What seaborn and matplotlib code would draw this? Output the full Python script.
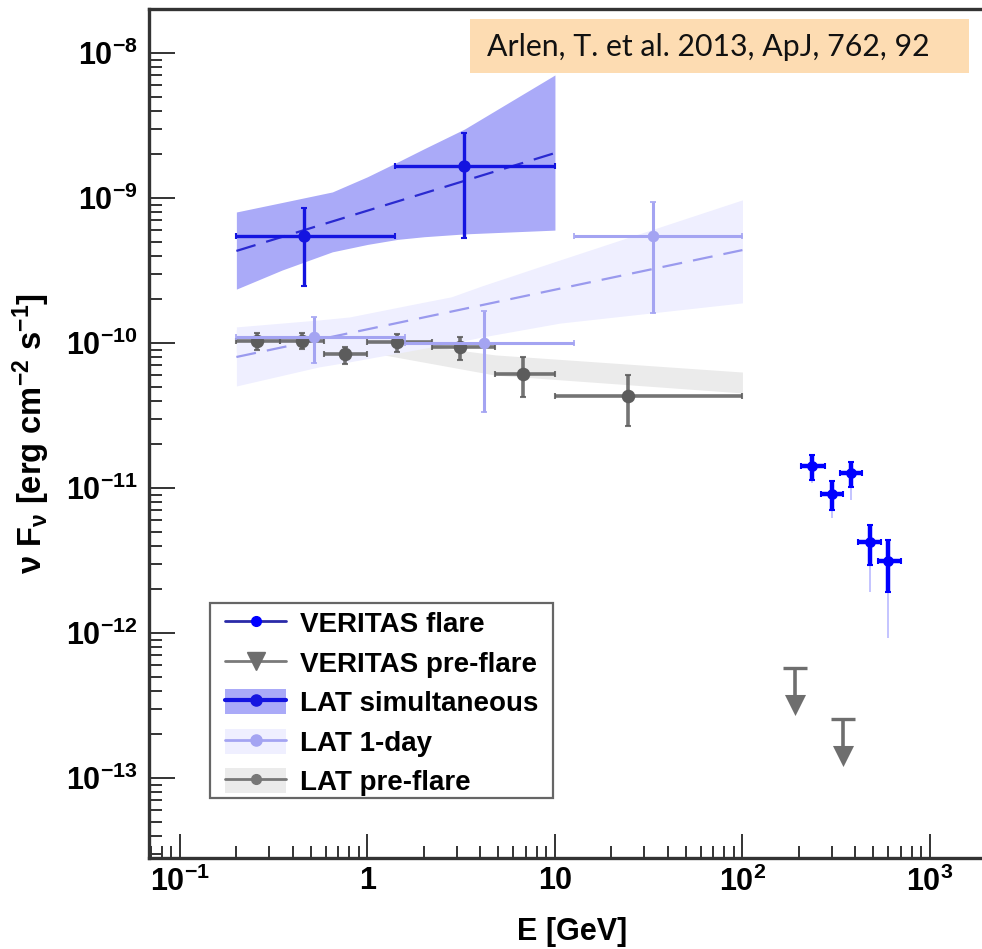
import matplotlib
matplotlib.use("Agg")
import matplotlib.pyplot as plt
import seaborn as sns
import numpy as np
from matplotlib.patches import Rectangle, Patch
from matplotlib.lines import Line2D
from matplotlib.ticker import FixedLocator, FixedFormatter, LogLocator, NullFormatter

# ---------------- data ----------------
# VERITAS flare spectrum (GeV, erg cm^-2 s^-1)
ver_flare_E = [236, 299, 379, 480, 600]
ver_flare_Elo = [206, 261, 330, 413, 530]
ver_flare_Ehi = [274, 343, 434, 550, 697]
ver_flare_F = [1.42e-11, 9.1e-12, 1.27e-11, 4.25e-12, 3.14e-12]
ver_flare_Fhi = [1.69e-11, 1.117e-11, 1.51e-11, 5.56e-12, 4.38e-12]
ver_flare_Flo = [1.135e-11, 7.05e-12, 1.016e-11, 2.94e-12, 1.92e-12]
ver_flare_Fsys = [1.08e-11, 6.2e-12, 8.26e-12, 1.92e-12, 9.25e-13]

# VERITAS pre-flare upper limits
ver_pre_E = [191, 343]
ver_pre_UL = [5.74e-13, 2.55e-13]
ver_pre_arrow = [3.19e-13, 1.42e-13]

# Fermi-LAT, simultaneous with the flare
lat_sim_E = [0.459, 3.27]
lat_sim_edges = [0.2, 1.41, 10.0]
lat_sim_F = [5.47e-10, 1.66e-9]
lat_sim_Fhi = [8.53e-10, 2.81e-9]
lat_sim_Flo = [2.47e-10, 5.3e-10]
lat_sim_band_E = [0.2, 0.35, 0.65, 1.0, 1.45, 2.0, 3.3, 10.0]
lat_sim_band_hi = [8.0e-10, 9.3e-10, 1.10e-9, 1.40e-9, 1.77e-9, 2.18e-9, 2.99e-9, 7.05e-9]
lat_sim_band_lo = [2.35e-10, 3.18e-10, 4.25e-10, 4.78e-10, 5.18e-10, 5.4e-10, 5.65e-10, 6.0e-10]
lat_sim_fit_E = [0.2, 10.0]
lat_sim_fit_F = [4.31e-10, 2.04e-9]

# Fermi-LAT, 1-day
lat_day_E = [0.519, 4.18, 33.3]
lat_day_edges = [0.2, 1.58, 12.6, 100.0]
lat_day_F = [1.10e-10, 1.0e-10, 5.47e-10]
lat_day_Fhi = [1.51e-10, 1.66e-10, 9.37e-10]
lat_day_Flo = [7.28e-11, 3.34e-11, 1.61e-10]
lat_day_band_E = [0.2, 0.55, 0.8, 1.8, 2.8, 4.1, 10.6, 100.0]
lat_day_band_hi = [1.29e-10, 1.44e-10, 1.51e-10, 1.86e-10, 2.08e-10, 2.48e-10, 3.73e-10, 9.7e-10]
lat_day_band_lo = [5.05e-11, 6.83e-11, 7.4e-11, 8.95e-11, 9.93e-11, 1.10e-10, 1.37e-10, 1.89e-10]
lat_day_fit_E = [0.2, 100.0]
lat_day_fit_F = [8.0e-11, 4.37e-10]

# Fermi-LAT, pre-flare
lat_pre_E = [0.258, 0.448, 0.759, 1.44, 3.11, 6.75, 24.5]
lat_pre_edges = [0.2, 0.34, 0.59, 1.0, 2.2, 4.8, 10.0, 100.0]
lat_pre_F = [1.03e-10, 1.03e-10, 8.4e-11, 1.016e-10, 9.4e-11, 6.1e-11, 4.3e-11]
lat_pre_Fhi = [1.17e-10, 1.17e-10, 9.4e-11, 1.154e-10, 1.10e-10, 8.0e-11, 6.0e-11]
lat_pre_Flo = [8.95e-11, 9.1e-11, 7.17e-11, 8.67e-11, 7.63e-11, 4.25e-11, 2.68e-11]
lat_pre_band_E = [0.2, 1.0, 4.8, 100.0]
lat_pre_band_hi = [1.23e-10, 1.08e-10, 8.27e-11, 6.3e-11]
lat_pre_band_lo = [8.67e-11, 8.67e-11, 6.0e-11, 4.52e-11]

legend_labels = ["VERITAS flare", "VERITAS pre-flare", "LAT simultaneous",
                 "LAT 1-day", "LAT pre-flare"]
x_ticks = [0.1, 1, 10, 100, 1000]
x_ticklabels = [r"$10^{-1}$", "1", "10", r"$10^{2}$", r"$10^{3}$"]
y_ticks = [1e-13, 1e-12, 1e-11, 1e-10, 1e-9, 1e-8]
y_ticklabels = [r"$10^{-13}$", r"$10^{-12}$", r"$10^{-11}$",
                r"$10^{-10}$", r"$10^{-9}$", r"$10^{-8}$"]
citation = "Arlen, T. et al. 2013, ApJ, 762, 92"

# ---------------- style ----------------
sns.set_theme(style="white")
plt.rcParams["font.family"] = ["Liberation Sans", "DejaVu Sans"]
plt.rcParams["font.weight"] = "bold"
plt.rcParams["mathtext.default"] = "regular"
plt.rcParams["text.color"] = "black"
plt.rcParams["axes.labelcolor"] = "black"

C_VFLARE = "#0000ff"
C_VFLARE_SYS = "#c4c4ff"
C_VPRE = "#6e6e6e"
C_SIM = "#1414e0"
C_SIM_BAND = "#aaaaf8"
C_DAY = "#a4a4f2"
C_DAY_BAND = "#efefff"
C_PRE = "#5c5c5c"
C_PRE_BAND = "#ebebeb"


def asym(center, lo, hi):
    c = np.asarray(center, float)
    return np.vstack([c - np.asarray(lo, float), np.asarray(hi, float) - c])


fig = plt.figure(figsize=(9.82, 9.49), dpi=100)
ax = fig.add_axes([149 / 982, 91 / 949, 846 / 982, 849 / 949])
ax.set_xscale("log")
ax.set_yscale("log")

# bands
ax.fill_between(lat_pre_band_E, lat_pre_band_lo, lat_pre_band_hi,
                color=C_PRE_BAND, lw=0, zorder=1)
ax.fill_between(lat_day_band_E, lat_day_band_lo, lat_day_band_hi,
                color=C_DAY_BAND, lw=0, zorder=1.2)
ax.fill_between(lat_sim_band_E, lat_sim_band_lo, lat_sim_band_hi,
                color=C_SIM_BAND, lw=0, zorder=1.4)

# power-law fits
sns.lineplot(x=lat_day_fit_E, y=lat_day_fit_F, ax=ax, color="#9a9aee",
             lw=1.6, linestyle=(0, (9, 5)), zorder=2)
sns.lineplot(x=lat_sim_fit_E, y=lat_sim_fit_F, ax=ax, color="#2a2ad0",
             lw=1.6, linestyle=(0, (9, 5)), zorder=2.5)

# LAT pre-flare points
pre_edges = np.array(lat_pre_edges)
ax.errorbar(lat_pre_E, lat_pre_F,
            xerr=asym(lat_pre_E, pre_edges[:-1], pre_edges[1:]),
            yerr=asym(lat_pre_F, lat_pre_Flo, lat_pre_Fhi),
            fmt="none", ecolor=C_PRE, elinewidth=2.6, capsize=2, capthick=1.5,
            alpha=0.85, zorder=3)
sns.scatterplot(x=lat_pre_E, y=lat_pre_F, ax=ax, color=C_PRE, s=95,
                marker="o", linewidth=0, zorder=3.5)

# LAT 1-day points
day_edges = np.array(lat_day_edges)
ax.errorbar(lat_day_E, lat_day_F,
            xerr=asym(lat_day_E, day_edges[:-1], day_edges[1:]),
            yerr=asym(lat_day_F, lat_day_Flo, lat_day_Fhi),
            fmt="none", ecolor=C_DAY, elinewidth=2.2, capsize=2, capthick=1.2,
            zorder=4)
sns.scatterplot(x=lat_day_E, y=lat_day_F, ax=ax, color=C_DAY, s=70,
                linewidth=0, zorder=4.5)

# LAT simultaneous points
sim_edges = np.array(lat_sim_edges)
ax.errorbar(lat_sim_E, lat_sim_F,
            xerr=asym(lat_sim_E, sim_edges[:-1], sim_edges[1:]),
            yerr=asym(lat_sim_F, lat_sim_Flo, lat_sim_Fhi),
            fmt="none", ecolor=C_SIM, elinewidth=2.4, capsize=2, capthick=1.5,
            zorder=5)
sns.scatterplot(x=lat_sim_E, y=lat_sim_F, ax=ax, color=C_SIM, s=80,
                linewidth=0, zorder=5.5)

# VERITAS flare points: systematic extension, then statistical bars
ax.errorbar(ver_flare_E, ver_flare_F,
            yerr=asym(ver_flare_F, ver_flare_Fsys, ver_flare_F),
            fmt="none", ecolor=C_VFLARE_SYS, elinewidth=1.4, zorder=5.8)
ax.errorbar(ver_flare_E, ver_flare_F,
            xerr=asym(ver_flare_E, ver_flare_Elo, ver_flare_Ehi),
            yerr=asym(ver_flare_F, ver_flare_Flo, ver_flare_Fhi),
            fmt="none", ecolor=C_VFLARE, elinewidth=3.2, capsize=2, capthick=1.5,
            zorder=6)
sns.scatterplot(x=ver_flare_E, y=ver_flare_F, ax=ax, color=C_VFLARE, s=60,
                linewidth=0, zorder=6.5)

# VERITAS pre-flare upper limits
ax.vlines(ver_pre_E, ver_pre_arrow, ver_pre_UL, color=C_VPRE, lw=2.6, zorder=6)
ax.plot(ver_pre_E, ver_pre_UL, linestyle="none", marker="_", ms=17,
        mew=2.4, color=C_VPRE, zorder=6)
sns.scatterplot(x=ver_pre_E, y=ver_pre_arrow, ax=ax, color=C_VPRE, s=230,
                marker="v", linewidth=0, zorder=6.5)

# ---------------- axes ----------------
ax.set_xlim(10 ** -1.165, 10 ** 3.347)
ax.set_ylim(10 ** -13.552, 10 ** -7.697)

ax.xaxis.set_major_locator(FixedLocator(x_ticks))
ax.xaxis.set_major_formatter(FixedFormatter(x_ticklabels))
ax.yaxis.set_major_locator(FixedLocator(y_ticks))
ax.yaxis.set_major_formatter(FixedFormatter(y_ticklabels))
for axis in (ax.xaxis, ax.yaxis):
    axis.set_minor_locator(LogLocator(base=10, subs=np.arange(2, 10), numticks=30))
    axis.set_minor_formatter(NullFormatter())

ax.tick_params(which="both", direction="in", colors="#333333",
               labelcolor="black", labelsize=22, width=1.4,
               bottom=True, left=True, top=False, right=False)
ax.tick_params(axis="y", which="major", length=19, pad=8)
ax.tick_params(axis="y", which="minor", length=9)
ax.tick_params(axis="x", which="major", length=17, pad=6)
ax.tick_params(axis="x", which="minor", length=9)

for side in ("left", "bottom", "top", "right"):
    ax.spines[side].set_color("#333333")
    ax.spines[side].set_linewidth(2.4)

ax.set_xlabel("E [GeV]", fontsize=22, fontweight="bold", labelpad=14)
ax.set_ylabel(r"ν F$_{ν}$ [erg cm$^{-2}$ s$^{-1}$]", fontsize=23.5,
              fontweight="bold", labelpad=10)

# ---------------- legend ----------------
# frame drawn separately so the padding around the entries is uneven
ax.add_patch(Rectangle((0.0721, 0.0707), 0.4054, 0.2297, transform=ax.transAxes,
                       fc="white", ec="#666666", lw=1.6, zorder=9))
handles = [
    Line2D([], [], color="#2a2aa8", lw=2, marker="o", ms=7,
           mfc=C_VFLARE, mec=C_VFLARE),
    Line2D([], [], color="#7a7a7a", lw=2, marker="v", ms=13,
           mfc=C_VPRE, mec=C_VPRE),
    (Patch(fc=C_SIM_BAND, ec="none"),
     Line2D([], [], color=C_SIM, lw=3, marker="o", ms=8)),
    (Patch(fc=C_DAY_BAND, ec="none"),
     Line2D([], [], color=C_DAY, lw=2, marker="o", ms=8)),
    (Patch(fc=C_PRE_BAND, ec="none"),
     Line2D([], [], color="#777777", lw=2, marker="o", ms=7)),
]
leg = ax.legend(handles, legend_labels, loc="upper left",
                bbox_to_anchor=(0.0898, 0.2921), borderaxespad=0,
                prop={"family": "Liberation Sans", "weight": "bold", "size": 20},
                frameon=False, handlelength=2.2, handleheight=1.0,
                handletextpad=0.5, labelspacing=0.42, borderpad=0)
leg.set_zorder(10)
for t in leg.get_texts():
    t.set_color("black")

# ---------------- citation ----------------
fig.add_artist(Rectangle((470 / 982, (949 - 73) / 949), 499 / 982, 54 / 949,
                         transform=fig.transFigure, fc="#fddcb2", ec="none",
                         zorder=20))
fig.text(487 / 982, (949 - 47) / 949, citation, family=["Lato", "DejaVu Sans"],
         weight="normal", fontsize=21.8, color="#111111", va="center", ha="left",
         zorder=21)

fig.savefig("out.png", dpi=100)
